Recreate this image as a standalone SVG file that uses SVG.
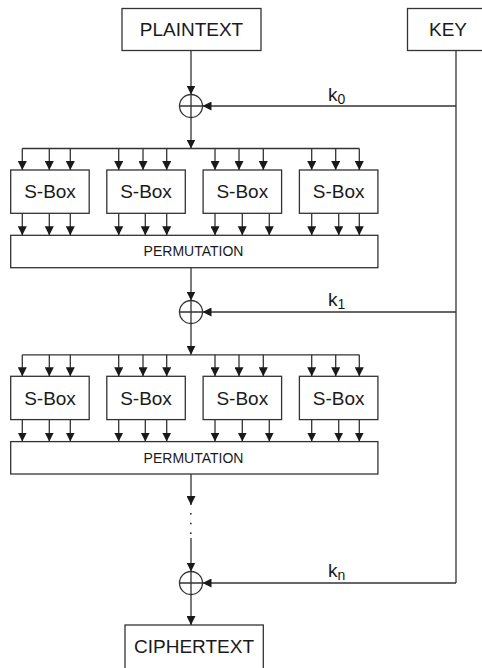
<svg xmlns="http://www.w3.org/2000/svg" width="482" height="668" viewBox="0 0 482 668">
<style>
.box{fill:#fff;stroke:#333;stroke-width:1.3}
.ln{fill:none;stroke:#333;stroke-width:1.3}
.arr{fill:none;stroke:#333;stroke-width:1.3;marker-end:url(#ah)}
.t{font-family:"Liberation Sans",Arial,sans-serif;font-size:19px;fill:#1a1a1a;text-anchor:middle}
.ts{font-family:"Liberation Sans",Arial,sans-serif;font-size:14px;fill:#1a1a1a;text-anchor:middle}
.k{font-family:"Liberation Sans",Arial,sans-serif;font-size:19px;fill:#1a1a1a}
.sub{font-size:14px}
.dot{fill:#333}
</style>
<defs>
<marker id="ah" viewBox="0 0 10 10" refX="10" refY="5" markerWidth="9" markerHeight="9" markerUnits="userSpaceOnUse" orient="auto">
<path d="M0,0 L10,5 L0,10 z" fill="#1a1a1a"/>
</marker>
</defs>

<g id="plaintext"><rect class="box" x="122" y="8.5" width="139" height="42"/><text class="t" x="191.5" y="36">PLAINTEXT</text></g>
<g id="key"><rect class="box" x="407.5" y="8.5" width="85" height="42"/><text class="t" x="448" y="36">KEY</text></g>

<g id="xor0"><circle class="ln" cx="191" cy="106" r="11.5"/><path class="ln" d="M179.5,106 H202.5 M191,94.5 V117.5"/></g>
<g id="xor1"><circle class="ln" cx="191" cy="312" r="11.5"/><path class="ln" d="M179.5,312 H202.5 M191,300.5 V323.5"/></g>
<g id="xorn"><circle class="ln" cx="191" cy="583" r="11.5"/><path class="ln" d="M179.5,583 H202.5 M191,571.5 V594.5"/></g>

<g id="sbox1a"><rect class="box" x="10.7" y="170" width="78.5" height="43.3"/><text class="t" x="50" y="198.3">S-Box</text></g>
<g id="sbox1b"><rect class="box" x="106.8" y="170" width="78.5" height="43.3"/><text class="t" x="146" y="198.3">S-Box</text></g>
<g id="sbox1c"><rect class="box" x="203.1" y="170" width="78.5" height="43.3"/><text class="t" x="242.3" y="198.3">S-Box</text></g>
<g id="sbox1d"><rect class="box" x="299.4" y="170" width="78.5" height="43.3"/><text class="t" x="338.6" y="198.3">S-Box</text></g>
<g id="perm1"><rect class="box" x="10.7" y="235.3" width="367.2" height="32.4"/><text class="ts" x="193.5" y="256">PERMUTATION</text></g>

<g id="sbox2a"><rect class="box" x="10.7" y="376.3" width="78.5" height="43.3"/><text class="t" x="50" y="404.6">S-Box</text></g>
<g id="sbox2b"><rect class="box" x="106.8" y="376.3" width="78.5" height="43.3"/><text class="t" x="146" y="404.6">S-Box</text></g>
<g id="sbox2c"><rect class="box" x="203.1" y="376.3" width="78.5" height="43.3"/><text class="t" x="242.3" y="404.6">S-Box</text></g>
<g id="sbox2d"><rect class="box" x="299.4" y="376.3" width="78.5" height="43.3"/><text class="t" x="338.6" y="404.6">S-Box</text></g>
<g id="perm2"><rect class="box" x="10.7" y="441.6" width="367.2" height="32.4"/><text class="ts" x="193.5" y="462.5">PERMUTATION</text></g>

<g id="ciphertext"><rect class="box" x="125" y="625" width="138.3" height="60"/><text class="t" x="194" y="653.3">CIPHERTEXT</text></g>

<g id="connectors">
<path class="arr" d="M191,50.5 V94.5"/>
<path class="arr" d="M191,117.5 V148.5"/>
<path class="ln" d="M22.3,148.5 H359.3"/>
<path class="arr" d="M22.3,148.5 V170"/><path class="arr" d="M49.3,148.5 V170"/><path class="arr" d="M70.3,148.5 V170"/>
<path class="arr" d="M118.7,148.5 V170"/><path class="arr" d="M143,148.5 V170"/><path class="arr" d="M166.7,148.5 V170"/>
<path class="arr" d="M215,148.5 V170"/><path class="arr" d="M239,148.5 V170"/><path class="arr" d="M263.3,148.5 V170"/>
<path class="arr" d="M311.7,148.5 V170"/><path class="arr" d="M335.7,148.5 V170"/><path class="arr" d="M359.3,148.5 V170"/>
<path class="arr" d="M22.3,213.3 V235.3"/><path class="arr" d="M49.3,213.3 V235.3"/><path class="arr" d="M70.3,213.3 V235.3"/>
<path class="arr" d="M118.7,213.3 V235.3"/><path class="arr" d="M145.3,213.3 V235.3"/><path class="arr" d="M166.7,213.3 V235.3"/>
<path class="arr" d="M215,213.3 V235.3"/><path class="arr" d="M242.3,213.3 V235.3"/><path class="arr" d="M269.3,213.3 V235.3"/>
<path class="arr" d="M311.7,213.3 V235.3"/><path class="arr" d="M338.7,213.3 V235.3"/><path class="arr" d="M359.3,213.3 V235.3"/>

<path class="arr" d="M191,267.7 V300.5"/>
<path class="arr" d="M191,323.5 V354.8"/>
<path class="ln" d="M22.3,354.8 H359.3"/>
<path class="arr" d="M22.3,354.8 V376.3"/><path class="arr" d="M49.3,354.8 V376.3"/><path class="arr" d="M70.3,354.8 V376.3"/>
<path class="arr" d="M118.7,354.8 V376.3"/><path class="arr" d="M143,354.8 V376.3"/><path class="arr" d="M166.7,354.8 V376.3"/>
<path class="arr" d="M215,354.8 V376.3"/><path class="arr" d="M239,354.8 V376.3"/><path class="arr" d="M263.3,354.8 V376.3"/>
<path class="arr" d="M311.7,354.8 V376.3"/><path class="arr" d="M335.7,354.8 V376.3"/><path class="arr" d="M359.3,354.8 V376.3"/>
<path class="arr" d="M22.3,419.6 V441.6"/><path class="arr" d="M49.3,419.6 V441.6"/><path class="arr" d="M70.3,419.6 V441.6"/>
<path class="arr" d="M118.7,419.6 V441.6"/><path class="arr" d="M145.3,419.6 V441.6"/><path class="arr" d="M166.7,419.6 V441.6"/>
<path class="arr" d="M215,419.6 V441.6"/><path class="arr" d="M242.3,419.6 V441.6"/><path class="arr" d="M269.3,419.6 V441.6"/>
<path class="arr" d="M311.7,419.6 V441.6"/><path class="arr" d="M338.7,419.6 V441.6"/><path class="arr" d="M359.3,419.6 V441.6"/>

<path class="arr" d="M191,474 V505"/>
<rect class="dot" x="190" y="513" width="1.6" height="1.6"/>
<rect class="dot" x="190" y="522.7" width="1.6" height="1.6"/>
<rect class="dot" x="190" y="532.4" width="1.6" height="1.6"/>
<path class="arr" d="M191,538 V571.5"/>
<path class="arr" d="M191,594.5 V625"/>

<path class="ln" d="M456,50.5 V583"/>
<path class="arr" d="M456,106 H202.5"/>
<path class="arr" d="M456,312 H202.5"/>
<path class="arr" d="M456,583 H202.5"/>
</g>

<g id="labels">
<text class="k" x="328" y="100.5">k<tspan class="sub" dy="3">0</tspan></text>
<text class="k" x="328" y="306.2">k<tspan class="sub" dy="3">1</tspan></text>
<text class="k" x="328" y="577.3">k<tspan class="sub" dy="3">n</tspan></text>
</g>
</svg>
